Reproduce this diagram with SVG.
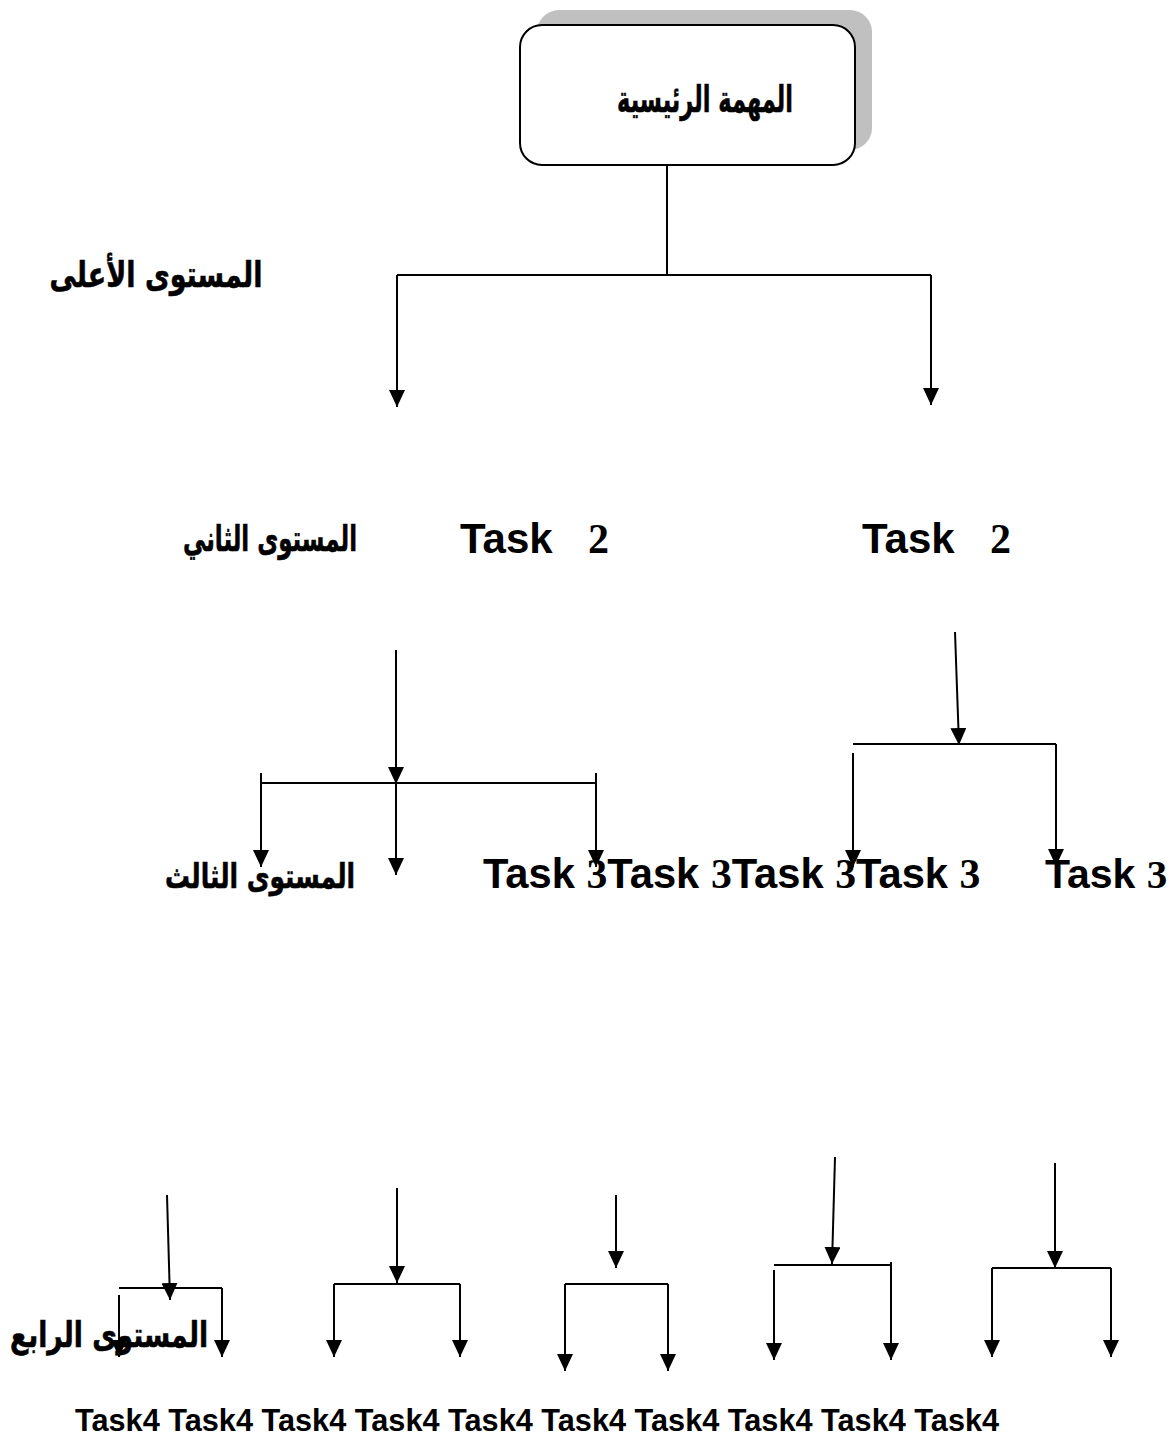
<svg xmlns="http://www.w3.org/2000/svg" width="1171" height="1448" viewBox="0 0 1171 1448">
  <style>
    .ln { fill: none; stroke: #000; stroke-width: 2; }
    .arr { marker-end: url(#head); }
    .ar { font-family: "DejaVu Sans", "Liberation Serif", serif; font-weight: bold; fill: #000; text-anchor: middle; stroke: #000; stroke-width: 0.6; }
    .en { font-family: "Liberation Sans", Arial, sans-serif; font-weight: bold; fill: #000; }
    .num { font-family: "Liberation Serif", "Times New Roman", serif; font-weight: bold; }
  </style>
  <defs>
    <marker id="head" markerUnits="userSpaceOnUse" markerWidth="17" markerHeight="16" refX="17" refY="8" orient="auto">
      <path d="M0,0 L17,8 L0,16 z" fill="#000"/>
    </marker>
  </defs>
  <rect width="1171" height="1448" fill="#fff"/>

  <!-- root task box with shadow -->
  <g id="main-task">
    <rect x="537" y="10" width="335" height="140" rx="22" fill="#c0c0c0"/>
    <rect x="520" y="25" width="335" height="140" rx="22" fill="#fff" stroke="#000" stroke-width="2"/>
    <text class="ar" x="705" y="112" font-size="37" textLength="176" lengthAdjust="spacingAndGlyphs">المهمة الرئيسية</text>
  </g>

  <!-- level labels -->
  <g id="label-level1"><text class="ar" x="156" y="287" font-size="36" textLength="213" lengthAdjust="spacingAndGlyphs">المستوى الأعلى</text></g>
  <g id="label-level2"><text class="ar" x="270" y="551" font-size="36" textLength="174" lengthAdjust="spacingAndGlyphs">المستوى الثاني</text></g>
  <g id="label-level3"><text class="ar" x="260" y="888" font-size="34" textLength="190" lengthAdjust="spacingAndGlyphs">المستوى الثالث</text></g>
  <g id="label-level4"><text class="ar" x="109" y="1347" font-size="35" textLength="198" lengthAdjust="spacingAndGlyphs">المستوى الرابع</text></g>

  <!-- level 2 tasks -->
  <g id="task2-left"><text class="en" x="460" y="553" font-size="42">Task<tspan class="num" x="588">2</tspan></text></g>
  <g id="task2-right"><text class="en" x="862" y="553" font-size="42">Task<tspan class="num" x="990">2</tspan></text></g>

  <!-- level 3 tasks -->
  <g id="task3-row"><text class="en" x="483" y="888" font-size="41.7">Task <tspan class="num">3</tspan>Task <tspan class="num">3</tspan>Task <tspan class="num">3</tspan>Task <tspan class="num">3</tspan></text></g>
  <g id="task3-right"><text class="en" x="1045" y="888" font-size="41">Task <tspan class="num">3</tspan></text></g>

  <!-- level 4 tasks -->
  <g id="task4-row"><text class="en" x="75" y="1431" font-size="30.7">Task4 Task4 Task4 Task4 Task4 Task4 Task4 Task4 Task4 Task4</text></g>

  <!-- connectors -->
  <g id="connectors">
    <path class="ln" d="M667,165 V275 M397,275 H931"/>
    <path class="ln arr" d="M397,275 V407"/>
    <path class="ln arr" d="M931,275 V405"/>

    <!-- level 2 left branch -->
    <path class="ln arr" d="M396,650 V784"/>
    <path class="ln" d="M261,783 H596"/>
    <path class="ln arr" d="M261,773 V867"/>
    <path class="ln arr" d="M396,783 V875"/>
    <path class="ln arr" d="M596,773 V867"/>

    <!-- level 2 right branch -->
    <path class="ln arr" d="M955,632 L959,745"/>
    <path class="ln" d="M853,744 H1056"/>
    <path class="ln arr" d="M853,753 V867"/>
    <path class="ln arr" d="M1056,744 V866"/>

    <!-- level 4 branches -->
    <path class="ln arr" d="M167,1195 L170,1300"/>
    <path class="ln" d="M119,1288 H222"/>
    <path class="ln arr" d="M119,1295 V1357"/>
    <path class="ln arr" d="M222,1288 V1357"/>

    <path class="ln arr" d="M397,1188 V1283"/>
    <path class="ln" d="M334,1284 H460"/>
    <path class="ln arr" d="M334,1284 V1357"/>
    <path class="ln arr" d="M460,1284 V1357"/>

    <path class="ln arr" d="M616,1195 V1268"/>
    <path class="ln" d="M565,1284 H668"/>
    <path class="ln arr" d="M565,1284 V1371"/>
    <path class="ln arr" d="M668,1284 V1371"/>

    <path class="ln arr" d="M835,1157 L832,1264"/>
    <path class="ln" d="M774,1265 H891"/>
    <path class="ln arr" d="M774,1270 V1360"/>
    <path class="ln arr" d="M891,1262 V1360"/>

    <path class="ln arr" d="M1055,1163 V1268"/>
    <path class="ln" d="M992,1268 H1111"/>
    <path class="ln arr" d="M992,1268 V1357"/>
    <path class="ln arr" d="M1111,1268 V1357"/>
  </g>
</svg>
